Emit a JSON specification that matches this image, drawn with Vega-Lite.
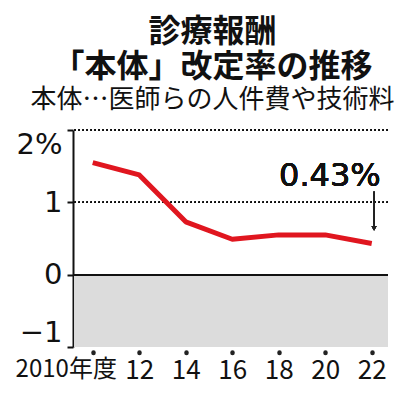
{
  "$schema": "https://vega.github.io/schema/vega-lite/v6.json",
  "autosize": {"type": "none"},
  "width": 315,
  "height": 217,
  "padding": {"left": 73, "top": 130, "right": 12, "bottom": 53},
  "background": "white",
  "title": {
    "text": ["診療報酬", "「本体」改定率の推移"],
    "subtitle": "本体…医師らの人件費や技術料",
    "font": "Noto Sans CJK JP",
    "fontSize": 32,
    "fontWeight": "bold",
    "lineHeight": 35,
    "color": "#111",
    "subtitleFont": "Noto Sans CJK JP",
    "subtitleFontSize": 26,
    "subtitleFontWeight": "normal",
    "subtitleColor": "#111",
    "subtitlePadding": 3,
    "anchor": "middle",
    "frame": "group",
    "dx": -18,
    "offset": 15
  },
  "config": {"view": {"stroke": null}},
  "datasets": {
    "rates": [
      {"year": 2010, "rate": 1.55},
      {"year": 2012, "rate": 1.379},
      {"year": 2014, "rate": 0.73},
      {"year": 2016, "rate": 0.49},
      {"year": 2018, "rate": 0.55},
      {"year": 2020, "rate": 0.55},
      {"year": 2022, "rate": 0.43}
    ]
  },
  "data": {"name": "rates"},
  "layer": [
    {
      "mark": {"type": "rect", "color": "#dcdcdc"},
      "encoding": {
        "x": {"datum": 2009.22, "type": "quantitative"},
        "x2": {"datum": 2022.7},
        "y": {"datum": 0, "type": "quantitative"},
        "y2": {"datum": -1}
      }
    },
    {
      "mark": {"type": "rule", "color": "#111", "strokeWidth": 1.5, "strokeDash": [1.5, 2.5]},
      "encoding": {"y": {"datum": 2, "type": "quantitative"}}
    },
    {
      "mark": {"type": "rule", "color": "#111", "strokeWidth": 1.5, "strokeDash": [1.5, 2.5]},
      "encoding": {"y": {"datum": 1, "type": "quantitative"}}
    },
    {
      "mark": {"type": "rule", "color": "#111", "strokeWidth": 1.5},
      "encoding": {"y": {"datum": 0, "type": "quantitative"}}
    },
    {
      "mark": {"type": "line", "color": "#e0161f", "strokeWidth": 5, "strokeCap": "butt", "strokeJoin": "round"},
      "encoding": {
        "x": {
          "field": "year",
          "type": "quantitative",
          "scale": {"domain": [2009.15, 2022.7], "nice": false, "zero": false},
          "axis": {
            "title": null,
            "values": [2010, 2012, 2014, 2016, 2018, 2020, 2022],
            "labelExpr": "datum.value === 2010 ? '2010年度' : format(datum.value - 2000, 'd')",
            "domain": false,
            "grid": false,
            "offset": 5,
            "ticks": true,
            "tickCap": "round",
            "tickWidth": 4.5,
            "tickSize": 0.5,
            "tickColor": "#222",
            "labelPadding": 5,
            "labelFont": "Noto Sans CJK JP",
            "labelFontSize": {"condition": {"test": "datum.value === 2010", "value": 24}, "value": 26},
            "labelColor": "#111",
            "labelFlush": false,
            "labelOverlap": false,
            "labelOffset": {"condition": {"test": "datum.value === 2010", "value": -27}, "value": 0}
          }
        },
        "y": {
          "field": "rate",
          "type": "quantitative",
          "scale": {"domain": [-1, 2], "nice": false, "zero": false},
          "axis": {
            "title": null,
            "values": [-1, 0, 1, 2],
            "format": "d",
            "labelExpr": "datum.value === 2 ? '2%' : datum.label",
            "grid": false,
            "domainColor": "#111",
            "domainWidth": 2,
            "tickColor": "#111",
            "tickWidth": 2,
            "tickSize": 6,
            "labelPadding": 5,
            "labelFont": "DejaVu Sans",
            "labelFontSize": 29,
            "labelColor": "#111",
            "labelFlush": true,
            "labelOverlap": false
          }
        }
      }
    },
    {
      "mark": {"type": "rule", "color": "#222", "strokeWidth": 1},
      "encoding": {"x": {"datum": 2022.1, "type": "quantitative"}, "y": {"datum": 1.15, "type": "quantitative"}, "y2": {"datum": 0.62}}
    },
    {
      "mark": {"type": "point", "shape": "triangle-down", "filled": true, "color": "#222", "size": 25, "opacity": 1},
      "encoding": {"x": {"datum": 2022.1, "type": "quantitative"}, "y": {"datum": 0.64, "type": "quantitative"}}
    },
    {
      "mark": {"type": "text", "font": "DejaVu Sans", "fontSize": 32, "color": "#111", "align": "center", "baseline": "middle"},
      "encoding": {"x": {"datum": 2020.2, "type": "quantitative"}, "y": {"datum": 1.37, "type": "quantitative"}, "text": {"value": "0.43%"}}
    }
  ]
}
